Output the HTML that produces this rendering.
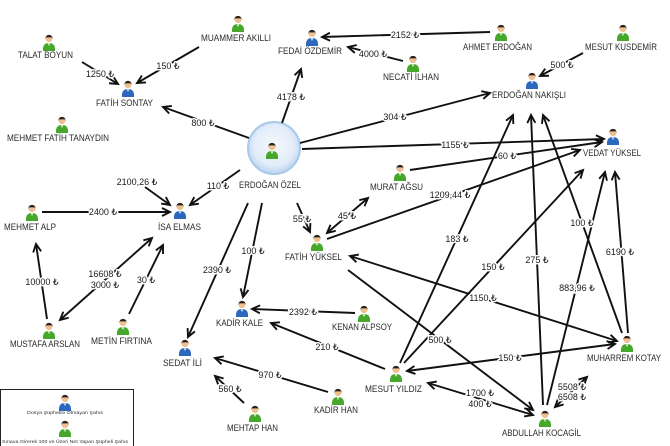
<!DOCTYPE html>
<html><head><meta charset="utf-8"><style>
html,body{margin:0;padding:0;background:#fff;}
svg{display:block;}
.n{font-family:"Liberation Sans","DejaVu Sans",sans-serif;font-size:9px;fill:#2a2a2a;text-anchor:middle;}
.e{font-family:"Liberation Sans","DejaVu Sans",sans-serif;font-size:9px;fill:#1a1a1a;text-anchor:middle;stroke:#fff;stroke-width:3px;paint-order:stroke;stroke-linejoin:round;}
.l{stroke:#111;stroke-width:1.9;fill:none;}
.t{font-family:"Liberation Sans","DejaVu Sans",sans-serif;font-size:4.6px;fill:#333;text-anchor:middle;}
</style></head><body>
<svg width="670" height="446" viewBox="0 0 670 446" xmlns="http://www.w3.org/2000/svg">
<defs>
<marker id="a" markerWidth="12" markerHeight="12" refX="9" refY="5" orient="auto-start-reverse" markerUnits="userSpaceOnUse">
<path d="M1,1 L9,5 L1,9" fill="none" stroke="#111" stroke-width="1.9"/>
</marker>
<radialGradient id="bub" cx="50%" cy="45%" r="55%">
<stop offset="0" stop-color="#f4f8fd"/><stop offset="0.7" stop-color="#e2edf9"/><stop offset="1" stop-color="#b9d4ef"/>
</radialGradient>
<g id="G">
<path d="M-6,9 C-6.5,3 -4,1 0,1 C4,1 6.5,3 6,9 Z" fill="#46a82b"/>
<path d="M-1.5,1.2 L0,4 L1.5,1.2 Z" fill="#dff0d0"/>
<circle cx="0" cy="-3.3" r="3.4" fill="#eec08f"/>
<path d="M-3.6,-3 C-4,-8.5 4,-8.5 3.6,-3 L3,-4.6 L-3,-4.6 Z" fill="#2b2118"/>
</g>
<g id="B">
<path d="M-6,9 C-6.5,3 -4,1 0,1 C4,1 6.5,3 6,9 Z" fill="#2c68bd"/>
<path d="M-1.5,1.2 L0,4 L1.5,1.2 Z" fill="#d8e6f6"/>
<circle cx="0" cy="-3.3" r="3.4" fill="#eec08f"/>
<path d="M-3.6,-3 C-4,-8.5 4,-8.5 3.6,-3 L3,-4.6 L-3,-4.6 Z" fill="#2b2118"/>
</g>
</defs>

<circle cx="274" cy="148" r="26" fill="url(#bub)" stroke="#a9c9ea" stroke-width="2"/>

<g class="l">
<line x1="82" y1="62" x2="118" y2="84" marker-end="url(#a)"/>
<line x1="199" y1="47" x2="137" y2="83" marker-end="url(#a)"/>
<line x1="249" y1="138" x2="163" y2="107" marker-end="url(#a)"/>
<line x1="282" y1="123" x2="301" y2="69" marker-end="url(#a)"/>
<line x1="490" y1="32" x2="322" y2="37" marker-end="url(#a)"/>
<line x1="403" y1="61" x2="348" y2="47" marker-end="url(#a)"/>
<line x1="583" y1="53" x2="540" y2="76" marker-end="url(#a)"/>
<line x1="300" y1="143" x2="490" y2="93" marker-end="url(#a)"/>
<line x1="302" y1="149" x2="604" y2="139" marker-end="url(#a)"/>
<line x1="410" y1="170" x2="602" y2="142" marker-end="url(#a)"/>
<line x1="327" y1="239" x2="580" y2="150" marker-end="url(#a)"/>
<line x1="327" y1="233" x2="368" y2="198" marker-start="url(#a)" marker-end="url(#a)"/>
<line x1="297" y1="203" x2="310" y2="232" marker-end="url(#a)"/>
<line x1="240" y1="170" x2="190" y2="205" marker-end="url(#a)"/>
<line x1="145" y1="187" x2="170" y2="205" marker-end="url(#a)"/>
<line x1="42" y1="212" x2="170" y2="212" marker-end="url(#a)"/>
<line x1="47" y1="319" x2="36" y2="244" marker-end="url(#a)"/>
<line x1="152" y1="238" x2="60" y2="320" marker-start="url(#a)" marker-end="url(#a)"/>
<line x1="129" y1="314" x2="163" y2="245" marker-end="url(#a)"/>
<line x1="248" y1="203" x2="188" y2="337" marker-end="url(#a)"/>
<line x1="262" y1="203" x2="243" y2="297" marker-end="url(#a)"/>
<line x1="355" y1="313" x2="252" y2="309" marker-end="url(#a)"/>
<line x1="385" y1="369" x2="271" y2="323" marker-end="url(#a)"/>
<line x1="328" y1="392" x2="215" y2="358" marker-end="url(#a)"/>
<line x1="244" y1="403" x2="215" y2="376" marker-end="url(#a)"/>
<line x1="400" y1="363" x2="513" y2="115" marker-end="url(#a)"/>
<line x1="404" y1="363" x2="583" y2="170" marker-end="url(#a)"/>
<line x1="543" y1="405" x2="531" y2="115" marker-end="url(#a)"/>
<line x1="622" y1="333" x2="543" y2="115" marker-end="url(#a)"/>
<line x1="547" y1="405" x2="605" y2="172" marker-end="url(#a)"/>
<line x1="628" y1="333" x2="615" y2="172" marker-end="url(#a)"/>
<line x1="350" y1="256" x2="617" y2="341" marker-start="url(#a)" marker-end="url(#a)"/>
<line x1="348" y1="270" x2="533" y2="410" marker-end="url(#a)"/>
<line x1="407" y1="371" x2="615" y2="344" marker-start="url(#a)" marker-end="url(#a)"/>
<line x1="428" y1="383" x2="533" y2="415" marker-start="url(#a)" marker-end="url(#a)"/>
<line x1="555" y1="407" x2="587" y2="377" marker-start="url(#a)" marker-end="url(#a)"/>
</g>

<g>
<text class="e" x="100" y="77">1250 ₺</text>
<text class="e" x="168" y="69">150 ₺</text>
<text class="e" x="203" y="126">800 ₺</text>
<text class="e" x="405" y="38">2152 ₺</text>
<text class="e" x="373" y="57">4000 ₺</text>
<text class="e" x="291" y="100">4178 ₺</text>
<text class="e" x="395" y="120">304 ₺</text>
<text class="e" x="455" y="148">1155 ₺</text>
<text class="e" x="562" y="68">500 ₺</text>
<text class="e" x="507" y="159">60 ₺</text>
<text class="e" x="137" y="185">2100,26 ₺</text>
<text class="e" x="218" y="189">110 ₺</text>
<text class="e" x="103" y="215">2400 ₺</text>
<text class="e" x="42" y="285">10000 ₺</text>
<text class="e" x="105" y="277">16608 ₺</text>
<text class="e" x="105" y="288">3000 ₺</text>
<text class="e" x="146" y="283">30 ₺</text>
<text class="e" x="217" y="273">2390 ₺</text>
<text class="e" x="302" y="222">55 ₺</text>
<text class="e" x="347" y="219">45 ₺</text>
<text class="e" x="253" y="254">100 ₺</text>
<text class="e" x="450" y="198">1209,44 ₺</text>
<text class="e" x="457" y="242">183 ₺</text>
<text class="e" x="493" y="270">150 ₺</text>
<text class="e" x="537" y="263">275 ₺</text>
<text class="e" x="582" y="226">100 ₺</text>
<text class="e" x="620" y="255">6190 ₺</text>
<text class="e" x="577" y="291">883,96 ₺</text>
<text class="e" x="483" y="301">1150 ₺</text>
<text class="e" x="440" y="343">500 ₺</text>
<text class="e" x="303" y="315">2392 ₺</text>
<text class="e" x="327" y="350">210 ₺</text>
<text class="e" x="270" y="378">970 ₺</text>
<text class="e" x="230" y="392">560 ₺</text>
<text class="e" x="510" y="361">150 ₺</text>
<text class="e" x="480" y="396">1700 ₺</text>
<text class="e" x="480" y="407">400 ₺</text>
<text class="e" x="572" y="390">5508 ₺</text>
<text class="e" x="572" y="400">6508 ₺</text>
</g>

<use href="#G" x="238" y="23"/>
<use href="#G" x="49" y="42"/>
<use href="#B" x="128" y="88"/>
<use href="#G" x="62" y="124"/>
<use href="#B" x="312" y="37"/>
<use href="#G" x="413" y="63"/>
<use href="#G" x="501" y="32"/>
<use href="#G" x="623" y="32"/>
<use href="#B" x="532" y="80"/>
<use href="#B" x="613" y="136"/>
<use href="#G" x="272" y="150"/>
<use href="#G" x="400" y="172"/>
<use href="#G" x="317" y="242"/>
<use href="#B" x="180" y="210"/>
<use href="#G" x="32" y="212"/>
<use href="#G" x="49" y="330"/>
<use href="#G" x="123" y="326"/>
<use href="#B" x="185" y="347"/>
<use href="#B" x="242" y="308"/>
<use href="#G" x="364" y="313"/>
<use href="#G" x="396" y="373"/>
<use href="#G" x="338" y="396"/>
<use href="#G" x="255" y="413"/>
<use href="#G" x="545" y="418"/>
<use href="#G" x="627" y="343"/>

<g>
<text class="n" x="45.5" y="58" textLength="55" lengthAdjust="spacingAndGlyphs">TALAT BOYUN</text>
<text class="n" x="236" y="41" textLength="70" lengthAdjust="spacingAndGlyphs">MUAMMER AKILLI</text>
<text class="n" x="124.5" y="106" textLength="57" lengthAdjust="spacingAndGlyphs">FATİH SONTAY</text>
<text class="n" x="58" y="141" textLength="102" lengthAdjust="spacingAndGlyphs">MEHMET FATİH TANAYDIN</text>
<text class="n" x="310" y="54" textLength="64" lengthAdjust="spacingAndGlyphs">FEDAİ ÖZDEMİR</text>
<text class="n" x="411" y="80" textLength="56" lengthAdjust="spacingAndGlyphs">NECATİ İLHAN</text>
<text class="n" x="497.5" y="50" textLength="69" lengthAdjust="spacingAndGlyphs">AHMET ERDOĞAN</text>
<text class="n" x="621" y="50" textLength="72" lengthAdjust="spacingAndGlyphs">MESUT KUSDEMİR</text>
<text class="n" x="529" y="98" textLength="74" lengthAdjust="spacingAndGlyphs">ERDOĞAN NAKIŞLI</text>
<text class="n" x="612" y="156" textLength="58" lengthAdjust="spacingAndGlyphs">VEDAT YÜKSEL</text>
<text class="n" x="270" y="188" textLength="62" lengthAdjust="spacingAndGlyphs">ERDOĞAN ÖZEL</text>
<text class="n" x="396.5" y="190" textLength="53" lengthAdjust="spacingAndGlyphs">MURAT AĞSU</text>
<text class="n" x="313.5" y="260" textLength="57" lengthAdjust="spacingAndGlyphs">FATİH YÜKSEL</text>
<text class="n" x="179.5" y="230" textLength="43" lengthAdjust="spacingAndGlyphs">İSA ELMAS</text>
<text class="n" x="30" y="230" textLength="52" lengthAdjust="spacingAndGlyphs">MEHMET ALP</text>
<text class="n" x="45" y="347" textLength="70" lengthAdjust="spacingAndGlyphs">MUSTAFA ARSLAN</text>
<text class="n" x="121.5" y="344" textLength="61" lengthAdjust="spacingAndGlyphs">METİN FIRTINA</text>
<text class="n" x="182.5" y="366" textLength="39" lengthAdjust="spacingAndGlyphs">SEDAT İLİ</text>
<text class="n" x="239.5" y="326" textLength="47" lengthAdjust="spacingAndGlyphs">KADİR KALE</text>
<text class="n" x="362" y="330" textLength="60" lengthAdjust="spacingAndGlyphs">KENAN ALPSOY</text>
<text class="n" x="393.5" y="392" textLength="57" lengthAdjust="spacingAndGlyphs">MESUT YILDIZ</text>
<text class="n" x="336" y="413" textLength="44" lengthAdjust="spacingAndGlyphs">KADİR HAN</text>
<text class="n" x="252.5" y="431" textLength="51" lengthAdjust="spacingAndGlyphs">MEHTAP HAN</text>
<text class="n" x="541.5" y="436" textLength="79" lengthAdjust="spacingAndGlyphs">ABDULLAH KOCAGİL</text>
<text class="n" x="624" y="361" textLength="74" lengthAdjust="spacingAndGlyphs">MUHARREM KOTAY</text>
</g>

<rect x="0.5" y="389.5" width="133" height="60" fill="#fff" stroke="#222" stroke-width="1"/>
<use href="#B" x="65" y="402"/>
<text class="t" x="65" y="414" textLength="76" lengthAdjust="spacingAndGlyphs">Dosya Şüphelisi Olmayan Şahıs</text>
<use href="#G" x="65" y="428"/>
<text class="t" x="65" y="443" textLength="126" lengthAdjust="spacingAndGlyphs">Sınava Girerek 100 ve Üzeri Net Yapan Şüpheli Şahıs</text>
</svg>
</body></html>
